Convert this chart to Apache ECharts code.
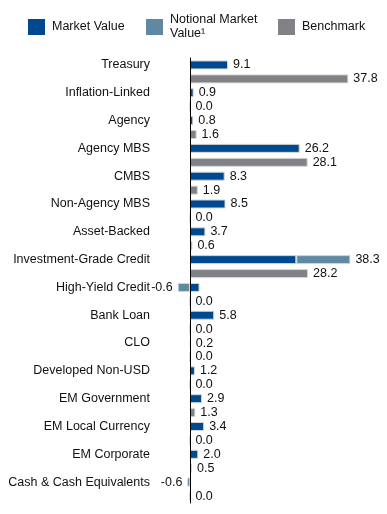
<!DOCTYPE html>
<html>
<head>
<meta charset="utf-8">
<script src="https://cdn.jsdelivr.net/npm/echarts@6/dist/echarts.min.js"></script>
<style>html,body{margin:0;padding:0;background:#fff}#c{width:387px;height:514px}</style>
</head>
<body>
<div id="c"></div>
<script>
var categories = ['Treasury','Inflation-Linked','Agency','Agency MBS','CMBS','Non-Agency MBS','Asset-Backed','Investment-Grade Credit','High-Yield Credit','Bank Loan','CLO','Developed Non-USD','EM Government','EM Local Currency','EM Corporate','Cash & Cash Equivalents'];
var marketValue = [9.1, 0.9, 0.8, 26.2, 8.3, 8.5, 3.7, 25.4, 2.3, 5.8, 0.2, 1.2, 2.9, 3.4, 2.0, -0.6];
var notionalValue = [0, 0, 0, 0, 0, 0, 0, 12.9, -2.9, 0, 0, 0, 0, 0, 0, 0];
var benchmark = [37.8, 0.0, 1.6, 28.1, 1.9, 0.0, 0.6, 28.2, 0.0, 0.0, 0.0, 0.0, 1.3, 0.0, 0.5, 0.0];

var FONT = '"Liberation Sans", Arial, sans-serif';
var FS = 12.5;
var TXT = '#111111';
var labelBase = {fontFamily: FONT, fontSize: FS, color: TXT, distance: 5};

function total(i){ return Math.round((marketValue[i] + notionalValue[i]) * 10) / 10; }

var mvData = marketValue.map(function(v, i){
  var show = notionalValue[i] === 0;
  return {value: v, label: Object.assign({}, labelBase, {
    show: show, position: v < 0 ? 'left' : 'right',
    formatter: function(){ return total(i).toFixed(1); }
  })};
});
var nvData = notionalValue.map(function(v, i){
  if (v === 0) return '-';
  var t = total(i);
  return {value: v, label: Object.assign({}, labelBase, {
    show: true, position: v < 0 ? 'left' : 'right',
    formatter: function(){ return t.toFixed(1); }
  })};
});

var chart = echarts.init(document.getElementById('c'), null, {renderer: 'canvas'});
var legendBase = {top: 14, icon: 'rect', itemWidth: 17, itemHeight: 16,
  itemStyle: {borderWidth: 0},
  textStyle: {fontFamily: FONT, fontSize: FS, color: TXT, padding: [0,0,0,2], lineHeight: 14}};
chart.setOption({
  animation: false,
  backgroundColor: '#ffffff',
  legend: [
    Object.assign({}, legendBase, {left: 23, data: ['Market Value']}),
    Object.assign({}, legendBase, {left: 141, top: 8, data: ['Notional Market\nValue\u00B9']}),
    Object.assign({}, legendBase, {left: 273, data: ['Benchmark']})
  ],
  grid: {left: 148, right: 29.5, top: 58, bottom: 11, containLabel: false, outerBoundsMode: 'none'},
  xAxis: {type: 'value', min: -10, max: 40, show: false},
  yAxis: {
    type: 'category', data: categories, inverse: true, z: 5,
    axisLine: {show: true, onZero: true, lineStyle: {color: '#000', width: 1}},
    axisTick: {show: false},
    axisLabel: {margin: -2, fontFamily: FONT, fontSize: FS, color: TXT, verticalAlign: 'bottom', lineHeight: 14},
    splitLine: {show: false}
  },
  series: [
    {name: 'Market Value', type: 'bar', stack: 'mv', barWidth: 9, barGap: '55%',
     itemStyle: {color: '#004990', borderColor: '#d6d6d6', borderWidth: 1}, data: mvData},
    {name: 'Notional Market\nValue\u00B9', type: 'bar', stack: 'mv', barWidth: 9, barGap: '55%',
     itemStyle: {color: '#5f88a3', borderColor: '#d6d6d6', borderWidth: 1}, data: nvData},
    {name: 'Benchmark', type: 'bar', barWidth: 9, barGap: '55%',
     itemStyle: {color: '#808285', borderColor: '#d6d6d6', borderWidth: 1},
     label: Object.assign({}, labelBase, {show: true, position: 'right',
       formatter: function(p){ return Number(p.value).toFixed(1); }}),
     data: benchmark}
  ]
});
</script>
</body>
</html>
